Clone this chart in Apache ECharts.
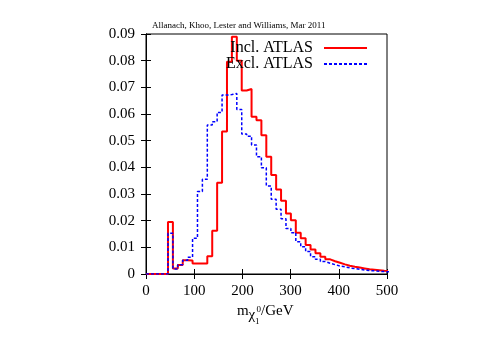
<!DOCTYPE html>
<html>
<head>
<meta charset="utf-8">
<script src="https://cdn.jsdelivr.net/npm/echarts@6/dist/echarts.min.js"></script>
<style>
html,body{margin:0;padding:0;background:#fff;}
#chart{width:485px;height:339px;}
</style>
</head>
<body>
<div id="chart"></div>
<script>
// histogram bins (GeV): first bin left edge and width
const binStart = 45.6;
const binWidth = 10.2;
// Incl. ATLAS (red, solid)
const inclAtlas = [0.0195, 0.0021, 0.0034, 0.0052, 0.0051, 0.0039, 0.0039, 0.0039, 0.0067, 0.0162,
    0.0342, 0.0534, 0.0796, 0.0890, 0.0800, 0.0688, 0.0694, 0.0590, 0.0577, 0.0520,
    0.0440, 0.0371, 0.0317, 0.0275, 0.0227, 0.0202, 0.0155, 0.0134, 0.0109, 0.0092,
    0.0078, 0.0065, 0.0055, 0.0048, 0.0042, 0.0036, 0.0031, 0.0027, 0.0024, 0.0021,
    0.0018, 0.0016, 0.0014, 0.0012, 0.0011];
// Excl. ATLAS (blue, dashed)
const exclAtlas = [0.0153, 0.0019, 0.0035, 0.0052, 0.0063, 0.0134, 0.0309, 0.0355, 0.0559, 0.0571,
    0.0606, 0.0671, 0.0673, 0.0677, 0.0617, 0.0525, 0.0517, 0.0484, 0.0440, 0.0398,
    0.0330, 0.0280, 0.0243, 0.0207, 0.0171, 0.0155, 0.0121, 0.0102, 0.0084, 0.0065,
    0.0055, 0.0047, 0.0040, 0.0035, 0.0030, 0.0027, 0.0023, 0.0020, 0.0018, 0.0015,
    0.0013, 0.0012, 0.0010, 0.0009, 0.0008];
const seriesNames = ['Incl. ATLAS', 'Excl. ATLAS'];
const creditText = 'Allanach, Khoo, Lester and Williams, Mar 2011';

// turn bin contents into step points (left edges, plus closing right edge)
function toSteps(vals) {
    let pts = [[0, 0]];
    for (let i = 0; i < vals.length; i++) {
        pts.push([binStart + i * binWidth, vals[i]]);
    }
    pts.push([binStart + vals.length * binWidth, vals[vals.length - 1]]);
    return pts;
}

const serif = '"Liberation Serif", "DejaVu Serif", serif';
let chart = echarts.init(document.getElementById('chart'));
let tickStyle = {inside: true, length: 5, lineStyle: {color: '#000', width: 1}};
let option = {
    animation: false,
    backgroundColor: '#fff',
    title: {
        text: creditText,
        left: 152, top: 21, padding: 0,
        textStyle: {fontFamily: serif, fontSize: 9, fontWeight: 'normal', color: '#000'}
    },
    grid: {left: 146, right: 98, top: 34, bottom: 65, show: true, borderColor: '#000', borderWidth: 1},
    legend: {
        orient: 'vertical',
        right: 112, top: 35,
        align: 'right',
        itemWidth: 43, itemHeight: 14, itemGap: 0,
        itemStyle: {opacity: 0},
        textStyle: {fontFamily: serif, fontSize: 16, color: '#000', padding: [0, 6, 0, 0]},
        data: seriesNames
    },
    xAxis: [{
        type: 'value', min: 0, max: 500, interval: 100,
        axisLine: {lineStyle: {color: '#000'}},
        axisTick: tickStyle,
        splitLine: {show: false},
        axisLabel: {fontFamily: serif, fontSize: 15, color: '#000', margin: 10}
    }, {
        type: 'value', position: 'top', min: 0, max: 500, interval: 100,
        axisLine: {lineStyle: {color: '#000'}},
        axisTick: tickStyle, axisLabel: {show: false}, splitLine: {show: false}
    }],
    yAxis: [{
        type: 'value', min: 0, max: 0.09, interval: 0.01,
        axisLine: {show: true, lineStyle: {color: '#000'}},
        axisTick: tickStyle,
        splitLine: {show: false},
        axisLabel: {fontFamily: serif, fontSize: 15, color: '#000', margin: 11}
    }, {
        type: 'value', position: 'right', min: 0, max: 0.09, interval: 0.01,
        axisLine: {show: true, lineStyle: {color: '#000'}},
        axisTick: tickStyle, axisLabel: {show: false}, splitLine: {show: false}
    }],
    series: [{
        name: seriesNames[0], type: 'line', step: 'end',
        symbol: 'none', clip: true,
        color: '#ff0000',
        lineStyle: {color: '#ff0000', width: 2},
        data: toSteps(inclAtlas)
    }, {
        name: seriesNames[1], type: 'line', step: 'end',
        symbol: 'none', clip: true,
        color: '#0000ff',
        lineStyle: {color: '#0000ff', width: 1.5, type: [3, 2]},
        data: toSteps(exclAtlas)
    }],
    graphic: [
        {type: 'text', left: 237, top: 304, style: {text: 'm', font: '15px ' + serif, fill: '#000'}},
        {type: 'text', left: 248.5, top: 307.5, style: {text: 'χ', font: '15px ' + serif, fill: '#000'}},
        {type: 'text', left: 256.5, top: 305, style: {text: '0', font: '9px ' + serif, fill: '#000'}},
        {type: 'text', left: 255, top: 317.5, style: {text: '1', font: '9px ' + serif, fill: '#000'}},
        {type: 'text', left: 261, top: 304, style: {text: '/GeV', font: '15px ' + serif, fill: '#000'}}
    ]
};
chart.setOption(option);
</script>
</body>
</html>
